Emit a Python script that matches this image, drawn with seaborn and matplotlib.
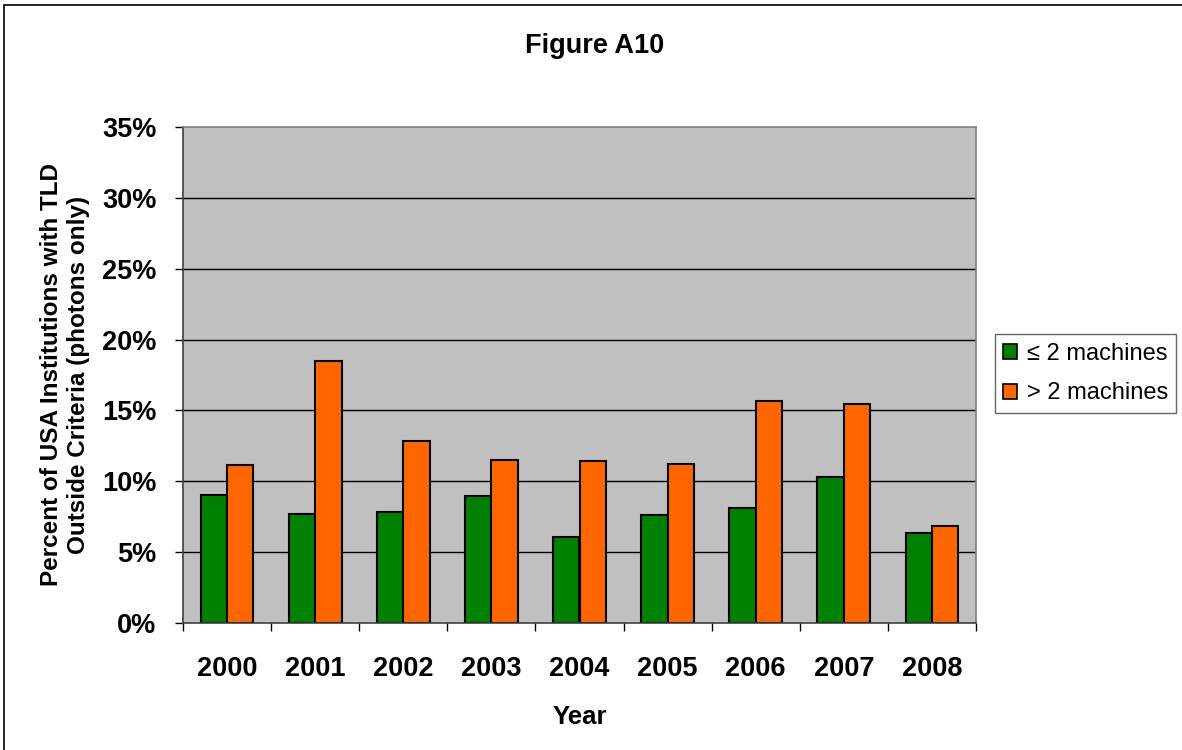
import matplotlib
matplotlib.use("Agg")
import matplotlib.pyplot as plt
import matplotlib.patches as mpatches
from matplotlib.ticker import FixedLocator, PercentFormatter
import seaborn as sns
import pandas as pd

# Data
years = ["2000", "2001", "2002", "2003", "2004", "2005", "2006", "2007", "2008"]
le2_machines = [9.05, 7.7, 7.8, 8.95, 6.1, 7.6, 8.1, 10.3, 6.35]
gt2_machines = [11.15, 18.5, 12.85, 11.5, 11.4, 11.25, 15.65, 15.45, 6.85]
series_names = ["\u2264 2 machines", "> 2 machines"]
series_colors = ["#008000", "#FF6600"]

df = pd.DataFrame({
    "Year": years * 2,
    "Percent": le2_machines + gt2_machines,
    "Series": [series_names[0]] * len(years) + [series_names[1]] * len(years),
})

sns.set_style("white")
plt.rcParams["font.family"] = ["Liberation Sans", "DejaVu Sans"]
plt.rcParams["text.color"] = "black"
plt.rcParams["axes.labelcolor"] = "black"
plt.rcParams["xtick.color"] = "black"
plt.rcParams["ytick.color"] = "black"

fig = plt.figure(figsize=(11.82, 7.5), dpi=100)
ax = fig.add_axes([183 / 1182, 1 - 623 / 750, (976 - 183) / 1182, (623 - 127) / 750])
ax.set_facecolor("#C0C0C0")

sns.barplot(
    data=df, x="Year", y="Percent", hue="Series", order=years,
    hue_order=series_names, palette=series_colors, width=0.6,
    edgecolor="black", linewidth=1.5, saturation=1, ax=ax, legend=False,
)

ax.set_ylim(0, 35)
ax.set_xlim(-0.5, len(years) - 0.5)
ax.yaxis.set_major_locator(FixedLocator([0, 5, 10, 15, 20, 25, 30, 35]))
ax.yaxis.set_major_formatter(PercentFormatter(decimals=0))

# horizontal gridlines
for v in [5, 10, 15, 20, 25, 30]:
    ax.axhline(v, color="black", linewidth=1.0, zorder=0.5)
ax.set_axisbelow(True)

# category boundary ticks on x
ax.xaxis.set_minor_locator(FixedLocator([i - 0.5 for i in range(len(years) + 1)]))
ax.tick_params(axis="x", which="major", length=0, pad=24, labelsize=19.5)
ax.tick_params(axis="x", which="minor", length=6, width=1, color="black", direction="out", bottom=True)
ax.tick_params(axis="y", which="major", length=6, width=1, color="black", direction="out", left=True, pad=13, labelsize=19.5)
for lbl in ax.get_xticklabels() + ax.get_yticklabels():
    lbl.set_fontweight("bold")

for side in ["top", "right"]:
    ax.spines[side].set_color("#808080")
    ax.spines[side].set_linewidth(1.2)
for side in ["left", "bottom"]:
    ax.spines[side].set_color("#404040")
    ax.spines[side].set_linewidth(1.2)

ax.set_xlabel("Year", fontsize=18.5, fontweight="bold", labelpad=16)
ax.set_ylabel("Percent of USA Institutions with TLD\nOutside Criteria (photons only)",
              fontsize=17.5, fontweight="bold", labelpad=9, linespacing=1.2)

fig.text(595 / 1182, 1 - 46 / 750, "Figure A10", ha="center", va="center",
         fontsize=19.5, fontweight="bold")

handles = [mpatches.Patch(facecolor=c, edgecolor="black", linewidth=1.2) for c in series_colors]
leg = fig.legend(handles, series_names, loc="center left",
                 bbox_to_anchor=(995 / 1182, 1 - 373.5 / 750), fontsize=17,
                 frameon=True, fancybox=False, edgecolor="#404040",
                 handlelength=0.6, handleheight=0.6, handletextpad=0.4,
                 borderpad=0.35, labelspacing=0.75, borderaxespad=0)
leg.get_frame().set_linewidth(1.0)

# outer chart frame
fig.add_artist(mpatches.Rectangle((4 / 1182, -0.05), 1.0, 1.05 - 5 / 750,
                                  transform=fig.transFigure, fill=False,
                                  edgecolor="black", linewidth=1.2))

fig.savefig("out.png", dpi=100)
